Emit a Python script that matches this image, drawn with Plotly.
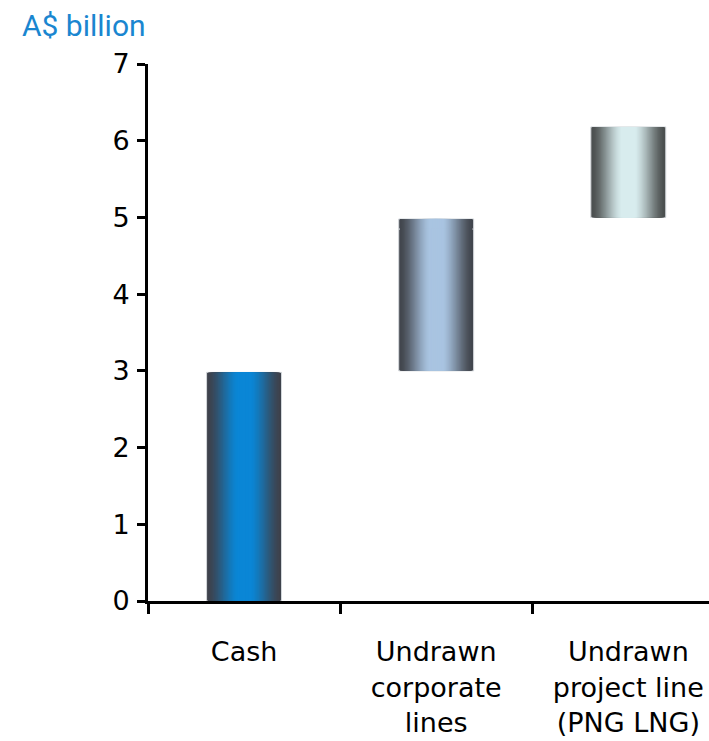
import plotly.graph_objects as go

# ---- data ----
categories = ["Cash", "Undrawn<br>corporate<br>lines", "Undrawn<br>project line<br>(PNG LNG)"]
seg_category = [categories[0], categories[1], categories[1], categories[2]]
seg_base = [0.0, 3.0, 4.85, 5.0]
seg_top = [2.98, 4.85, 4.98, 6.18]
y_ticks = [0, 1, 2, 3, 4, 5, 6, 7]
unit_label = "A$ billion"

# ---- styles ----
edge_colors = {categories[0]: (62, 66, 76), categories[1]: (66, 70, 78), categories[2]: (76, 80, 80)}
center_colors = {categories[0]: (10, 134, 214), categories[1]: (169, 196, 225), categories[2]: (216, 236, 238)}
BAR_W = 0.39
LEVELS = 30


def mix(a, b, f):
    return "rgb(%d,%d,%d)" % tuple(round(a[i] + (b[i] - a[i]) * f) for i in range(3))


lengths = [t - b for b, t in zip(seg_base, seg_top)]

fig = go.Figure()
for k in range(LEVELS):
    frac = k / (LEVELS - 1)          # 0 = outer edge, 1 = center
    w = BAR_W * (1 - frac * 0.97)
    x = min(1.0, max(0.0, (frac - 0.04) / 0.78))
    f = x * x * (3 - 2 * x) * 0.5 + x * 0.5
    colors = [mix(edge_colors[c], center_colors[c], f) for c in seg_category]
    fig.add_trace(go.Bar(
        x=seg_category, y=lengths, base=seg_base, width=w,
        marker=dict(color=colors,
                    line=dict(width=1 if k == 0 else 0, color="#d4d8dc")),
        hoverinfo="skip", showlegend=False,
    ))

fig.update_layout(
    barmode="overlay",
    width=709, height=741,
    margin=dict(l=148, r=0, t=64, b=140),
    plot_bgcolor="white", paper_bgcolor="white",
    font=dict(family="DejaVu Sans", size=27, color="black"),
    xaxis=dict(
        type="category", categoryorder="array", categoryarray=categories,
        range=[-0.5, 2.42], tickson="boundaries", automargin=False,
        showline=True, linecolor="black", linewidth=3,
        ticks="outside", ticklen=10, tickwidth=3, tickcolor="black",
        showgrid=False, zeroline=False, ticklabelstandoff=25,
    ),
    yaxis=dict(
        range=[0, 7], tickvals=y_ticks, automargin=False,
        showline=True, linecolor="black", linewidth=3,
        ticks="outside", ticklen=8, tickwidth=3, tickcolor="black",
        showgrid=False, zeroline=False, ticklabelstandoff=2,
    ),
    annotations=[dict(
        text=unit_label, xref="paper", yref="paper",
        x=(20 - 148) / 561, y=1 + 58 / 537, xanchor="left", yanchor="top",
        showarrow=False, font=dict(family="Roboto", size=30, color="#1a86d0"),
    )],
)

fig.write_html("out.html", config={"displayModeBar": False},
               post_script="document.body.style.margin='0';document.body.style.padding='0';")
